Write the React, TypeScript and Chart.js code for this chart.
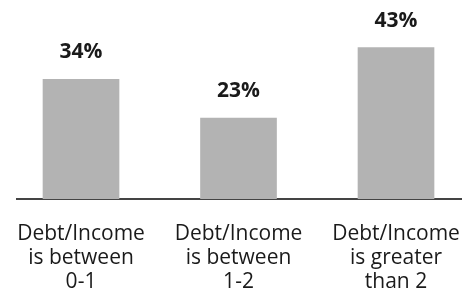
import React, { useEffect, useRef } from "react";
import { Chart, registerables } from "chart.js";

Chart.register(...registerables);

const categories: string[][] = [
  ["Debt/Income", "is between", "0-1"],
  ["Debt/Income", "is between", "1-2"],
  ["Debt/Income", "is greater", "than 2"],
];
const positions = [0, 1, 2];
const shares = [34, 23, 43];
const shareLabels = ["34%", "23%", "43%"];

const FONT = "'Open Sans', sans-serif";

const valueLabels = {
  id: "valueLabels",
  afterDatasetsDraw(chart: any) {
    const ctx = chart.ctx;
    const meta = chart.getDatasetMeta(0);
    ctx.save();
    ctx.font = `bold 21px ${FONT}`;
    ctx.fillStyle = "#1a1a1a";
    ctx.textAlign = "center";
    ctx.textBaseline = "alphabetic";
    meta.data.forEach((el: any, i: number) => {
      ctx.fillText(shareLabels[i], el.x, el.y - 21);
    });
    ctx.restore();
  },
};

export default function App() {
  const ref = useRef<HTMLCanvasElement | null>(null);
  useEffect(() => {
    if (!ref.current) return;
    const chart = new Chart(ref.current, {
      type: "bar",
      data: {
        datasets: [
          {
            data: positions.map((p, i) => ({ x: p, y: shares[i] })),
            backgroundColor: "#b3b3b3",
            barThickness: 76,
          },
        ],
      },
      options: {
        animation: false,
        responsive: false,
        layout: { padding: { left: 17, right: 0, top: 23, bottom: 0 } },
        plugins: { legend: { display: false }, tooltip: { enabled: false } },
        scales: {
          x: {
            type: "linear",
            offset: false,
            min: -0.4064,
            max: 2.419,
            grid: { display: false, drawTicks: false, tickLength: 0, offset: false },
            border: { display: true, color: "#444444", width: 2 },
            afterBuildTicks: (scale: any) => {
              scale.ticks = positions.map((v) => ({ value: v }));
            },
            afterFit: (scale: any) => {
              scale.height = 95;
              scale.paddingLeft = 0;
              scale.paddingRight = 0;
            },
            ticks: {
              autoSkip: false,
              maxRotation: 0,
              minRotation: 0,
              padding: 23,
              color: "#1a1a1a",
              font: { family: FONT, size: 21, lineHeight: 24 / 21 },
              callback: (v: any) => categories[Math.round(Number(v))] ?? "",
            },
          },
          y: { display: false, min: 0, max: 50 },
        },
      },
      plugins: [valueLabels],
    } as any);
    return () => chart.destroy();
  }, []);
  return (
    <div style={{ position: "absolute", left: 0, top: 0, width: 462, height: 294 }}>
      <canvas ref={ref} width={462} height={294} style={{ display: "block" }} />
    </div>
  );
}
